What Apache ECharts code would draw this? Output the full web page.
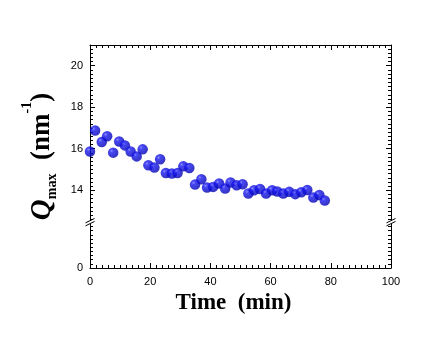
<!DOCTYPE html>
<html>
<head>
<meta charset="utf-8">
<script src="https://cdn.jsdelivr.net/npm/echarts@6/dist/echarts.min.js"></script>
<style>
  html, body { margin: 0; padding: 0; background: #fff; }
  #chart { width: 436px; height: 339px; }
</style>
</head>
<body>
<div id="chart"></div>
<script>
// Peak position Q_max (nm^-1) against time (min)
const timeMin = [0, 1.7, 3.9, 5.7, 7.7, 9.7, 11.6, 13.5, 15.5, 17.5,
                 19.4, 21.4, 23.3, 25.2, 27.2, 29.1, 31.0, 33.0, 34.9, 37.0,
                 38.9, 40.9, 42.9, 44.9, 46.7, 48.7, 50.7, 52.6, 54.5, 56.5,
                 58.5, 60.5, 62.2, 64.2, 66.2, 68.2, 70.2, 72.2, 74.2, 76.2, 78.0];
const qMax = [15.87, 16.88, 16.32, 16.60, 15.81, 16.35, 16.16, 15.87, 15.63, 15.97,
              15.20, 15.09, 15.49, 14.83, 14.80, 14.83, 15.15, 15.07, 14.27, 14.53,
              14.13, 14.16, 14.32, 14.08, 14.37, 14.24, 14.29, 13.84, 14.00, 14.06,
              13.84, 14.00, 13.94, 13.84, 13.92, 13.81, 13.90, 14.01, 13.65, 13.77, 13.50];

// x axis
const xMin = 0, xMax = 100, xStep = 20;

// Broken y axis: the short stretch under the break is the Q = 0 end of the scale
const yAxisBottom = 10.25;   // scale position that carries the "0" label
const yAxisTop = 21;
const yBreakAt = 12.46;
const yTickValues = [10.25, 14, 16, 18, 20];
const yTickLabels = ['0', '14', '16', '18', '20'];
const yMinorStep = 0.2;

const r2 = v => Math.round(v * 100) / 100;

// minor tick positions above and below the break
const yMinorValues = [];
for (let v = 14 - yMinorStep; v > yBreakAt + 0.1; v -= yMinorStep) yMinorValues.push(r2(v));
for (let v = 14 + yMinorStep; v < yAxisTop - 0.01; v += yMinorStep) yMinorValues.push(r2(v));
for (let v = yAxisBottom + yMinorStep; v < yBreakAt - 0.1; v += yMinorStep) yMinorValues.push(r2(v));
const yMinorOnly = yMinorValues.filter(v => yTickValues.indexOf(v) < 0);

const points = timeMin.map((t, i) => [t, qMax[i]]);

const labelFont = { fontFamily: 'Liberation Sans', fontSize: 11, color: '#000' };
const serif = 'Liberation Serif';

function yAxisDef(pos, withLabels, minor) {
  return {
    type: 'value',
    position: pos,
    min: yAxisBottom,
    max: yAxisTop,
    axisLine: { show: !minor, onZero: false, lineStyle: { color: '#000', width: 1 } },
    axisTick: {
      show: true, inside: true, length: minor ? 3 : 5,
      customValues: minor ? yMinorOnly : yTickValues,
      lineStyle: { color: '#000', width: 1 }
    },
    axisLabel: {
      show: withLabels,
      customValues: yTickValues,
      margin: 7,
      ...labelFont,
      formatter: v => {
        const k = yTickValues.findIndex(t => Math.abs(t - v) < 1e-6);
        return k >= 0 ? yTickLabels[k] : '';
      }
    },
    splitLine: { show: false }
  };
}

function xAxisDef(pos, withLabels) {
  return {
    type: 'value',
    position: pos,
    min: xMin,
    max: xMax,
    interval: xStep,
    axisLine: { show: true, onZero: false, lineStyle: { color: '#000', width: 1 } },
    axisTick: { show: true, inside: true, length: 5, lineStyle: { color: '#000', width: 1 } },
    minorTick: { show: true, splitNumber: 10, length: 3, lineStyle: { color: '#000', width: 1 } },
    axisLabel: { show: withLabels, margin: 8, ...labelFont },
    splitLine: { show: false },
    minorSplitLine: { show: false }
  };
}

const chart = echarts.init(document.getElementById('chart'), null, { renderer: 'canvas' });

const xBottom = xAxisDef('bottom', true);
xBottom.name = 'Time  (min)';
xBottom.nameLocation = 'middle';
xBottom.nameGap = 17;
xBottom.nameTextStyle = {
  fontFamily: serif, fontWeight: 'bold', fontSize: 23, color: '#000',
  padding: [0, 14, 0, 0]
};

const yLeft = yAxisDef('left', true, false);
yLeft.name = '{q|Q}{sub|max}{t|  (nm}{sup|-1}{t|)}';
yLeft.nameLocation = 'middle';
yLeft.nameGap = 25;
yLeft.nameRotate = 90;
yLeft.nameTextStyle = {
  color: '#000',
  rich: {
    q:   { fontFamily: serif, fontStyle: 'italic', fontWeight: 'bold', fontSize: 29, lineHeight: 29,
           verticalAlign: 'top', padding: [9, 0, 0, 0], color: '#000' },
    t:   { fontFamily: serif, fontWeight: 'bold', fontSize: 27, lineHeight: 27,
           verticalAlign: 'top', padding: [10, 0, 0, 0], color: '#000' },
    sub: { fontFamily: serif, fontWeight: 'bold', fontSize: 14, lineHeight: 14,
           verticalAlign: 'top', padding: [27, 0, 0, 0], color: '#000' },
    sup: { fontFamily: serif, fontWeight: 'bold', fontSize: 14, lineHeight: 14,
           verticalAlign: 'top', padding: [2, 0, 0, 0], color: '#000' }
  }
};

chart.setOption({
  animation: false,
  backgroundColor: '#fff',
  grid: { left: 90, right: 45, top: 45, bottom: 71, containLabel: false },
  xAxis: [xBottom, xAxisDef('top', false)],
  yAxis: [
    yLeft,
    yAxisDef('left', false, true),
    yAxisDef('right', false, false),
    yAxisDef('right', false, true)
  ],
  series: [{
    type: 'scatter',
    xAxisIndex: 0,
    yAxisIndex: 0,
    data: points,
    symbol: 'circle',
    symbolSize: 10.5,
    itemStyle: {
      color: {
        type: 'radial', x: 0.35, y: 0.33, r: 0.7,
        colorStops: [
          { offset: 0, color: '#7070ff' },
          { offset: 0.25, color: '#1818f0' },
          { offset: 1, color: '#0000b0' }
        ]
      }
    }
  }]
});

// Break marks "//" on the left and right frame lines
const by = chart.convertToPixel({ yAxisIndex: 0 }, yBreakAt);
const frameX = [chart.convertToPixel({ xAxisIndex: 0 }, xMin), chart.convertToPixel({ xAxisIndex: 0 }, xMax)];
const breakGraphics = [];
frameX.forEach(ax => {
  breakGraphics.push({
    type: 'rect', z: 100,
    shape: { x: ax - 1.5, y: by - 1.5, width: 3, height: 3 },
    style: { fill: '#fff' }
  });
  [-1.5, 1.5].forEach(d => {
    breakGraphics.push({
      type: 'line', z: 101,
      shape: { x1: ax - 4.5, y1: by + d + 2.2, x2: ax + 4.5, y2: by + d - 2.2 },
      style: { stroke: '#000', lineWidth: 1 }
    });
  });
});
chart.setOption({ graphic: breakGraphics });
</script>
</body>
</html>
